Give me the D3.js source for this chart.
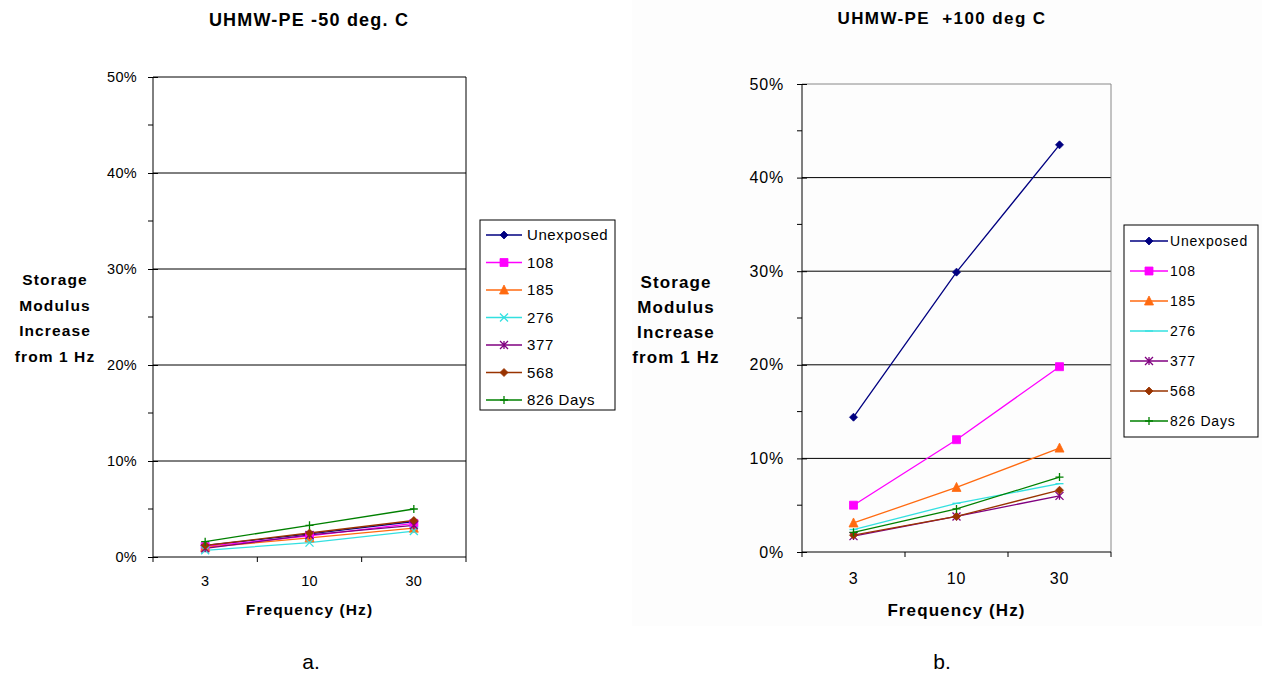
<!DOCTYPE html>
<html>
<head>
<meta charset="utf-8">
<script src="https://cdn.jsdelivr.net/npm/d3@7"></script>
<style>
  html, body { margin: 0; padding: 0; background: #ffffff; }
  svg { display: block; }
  text { font-family: Arial, "Liberation Sans", sans-serif; fill: #000; }
</style>
</head>
<body>
<svg id="fig" width="1262" height="677"></svg>
<script>
// Frequency categories and tick labels
const categories = ["3", "10", "30"];
const yTickValues = [0, 10, 20, 30, 40, 50];
const seriesNames = ["Unexposed", "108", "185", "276", "377", "568", "826 Days"];
const seriesColors = ["#000080", "#ff00ff", "#ff6a10", "#33e0e0", "#800080", "#993300", "#008000"];

// Storage modulus increase from 1 Hz (%), -50 deg C
const coldUnexposed = [1.2, 2.4, 3.7];
const cold108 = [1.1, 2.2, 3.5];
const cold185 = [1.0, 2.0, 3.0];
const cold276 = [0.7, 1.5, 2.7];
const cold377 = [0.9, 2.3, 3.3];
const cold568 = [1.2, 2.5, 3.8];
const cold826 = [1.6, 3.3, 5.0];

// Storage modulus increase from 1 Hz (%), +100 deg C
const hotUnexposed = [14.4, 29.9, 43.5];
const hot108 = [5.0, 12.0, 19.8];
const hot185 = [3.1, 6.9, 11.1];
const hot276 = [2.4, 5.2, 7.3];
const hot377 = [1.7, 3.8, 6.0];
const hot568 = [1.8, 3.8, 6.6];
const hot826 = [2.1, 4.6, 8.0];

const svg = d3.select("#fig");

// Marker shapes
function markerPath(kind, s) {
  const h = s / 2;
  switch (kind) {
    case "diamond": return `M0,${-h}L${h},0L0,${h}L${-h},0Z`;
    case "square": return `M${-h},${-h}H${h}V${h}H${-h}Z`;
    case "triangle": return `M0,${-h - 1}L${h + 0.5},${h}L${-h - 0.5},${h}Z`;
    case "x": return `M${-h},${-h}L${h},${h}M${-h},${h}L${h},${-h}`;
    case "dash": return `M${-h},0H${h}`;
    case "asterisk": return `M${-h},${-h}L${h},${h}M${-h},${h}L${h},${-h}M0,${-h}V${h}`;
    case "plus": return `M${-h},0H${h}M0,${-h}V${h}`;
  }
}
const filledKinds = new Set(["diamond", "square", "triangle"]);

function drawMarker(g, kind, color, x, y, s) {
  const filled = filledKinds.has(kind);
  g.append("path")
    .attr("d", markerPath(kind, s))
    .attr("transform", `translate(${x},${y})`)
    .attr("fill", filled ? color : "none")
    .attr("stroke", color)
    .attr("stroke-width", filled ? 0.8 : 1.3);
}

function drawChart(cfg) {
  const g = svg.append("g");
  if (cfg.bg) {
    g.append("rect").attr("x", cfg.bg[0]).attr("y", cfg.bg[1])
      .attr("width", cfg.bg[2]).attr("height", cfg.bg[3]).attr("fill", "#fdfdfd");
  }
  const x = d3.scaleBand().domain(categories).range([cfg.left, cfg.right]);
  const y = d3.scaleLinear().domain([0, 50]).range([cfg.bottom, cfg.top]);

  // horizontal gridlines
  g.append("g").selectAll("line").data(yTickValues.filter(v => v > 0)).join("line")
    .attr("x1", cfg.left).attr("x2", cfg.right)
    .attr("y1", d => y(d)).attr("y2", d => y(d))
    .attr("stroke", d => d === 50 ? cfg.frameColor : "#000").attr("stroke-width", 1);
  // right frame
  g.append("line").attr("x1", cfg.right).attr("x2", cfg.right)
    .attr("y1", cfg.top).attr("y2", cfg.bottom).attr("stroke", cfg.frameColor);

  // y axis
  const yAxis = d3.axisLeft(y).tickValues(yTickValues).tickSize(5)
    .tickFormat(d => d + "%");
  const ya = g.append("g").attr("transform", `translate(${cfg.left},0)`).call(yAxis);
  ya.select(".domain").attr("stroke", "#000").attr("d", `M0,${cfg.top}V${cfg.bottom}`);
  ya.selectAll(".tick line").attr("stroke", "#000").attr("x1", 5).attr("x2", -5);
  ya.selectAll(".tick text").attr("font-size", cfg.tickFont).attr("x", -cfg.tickGap)
    .attr("font-family", "Arial, 'Liberation Sans', sans-serif").attr("fill", "#222")
    .attr("letter-spacing", cfg.tickSpacing);
  // minor ticks at 5% steps
  g.append("g").selectAll("line").data([5, 15, 25, 35, 45]).join("line")
    .attr("x1", cfg.left - 5).attr("x2", cfg.left)
    .attr("y1", d => y(d)).attr("y2", d => y(d)).attr("stroke", "#000");

  // x axis with ticks between categories
  const bounds = [cfg.left].concat(categories.map(c => x(c) + x.bandwidth()));
  g.append("line").attr("x1", cfg.left).attr("x2", cfg.right)
    .attr("y1", cfg.bottom).attr("y2", cfg.bottom).attr("stroke", "#000");
  g.append("g").selectAll("line").data(bounds).join("line")
    .attr("x1", d => d).attr("x2", d => d)
    .attr("y1", cfg.bottom).attr("y2", cfg.bottom + 5).attr("stroke", "#000");
  g.append("g").selectAll("text").data(categories).join("text")
    .attr("x", d => x(d) + x.bandwidth() / 2).attr("y", cfg.xLabelY)
    .attr("text-anchor", "middle").attr("font-size", cfg.tickFont).attr("fill", "#222")
    .attr("letter-spacing", cfg.tickSpacing)
    .text(d => d);

  // series lines and markers
  cfg.series.forEach((vals, i) => {
    const pts = vals.map((v, j) => [x(categories[j]) + x.bandwidth() / 2, y(v)]);
    g.append("path").attr("d", d3.line()(pts)).attr("fill", "none")
      .attr("stroke", seriesColors[i]).attr("stroke-width", 1.3);
  });
  cfg.series.forEach((vals, i) => {
    vals.forEach((v, j) => {
      drawMarker(g, cfg.markers[i], seriesColors[i], x(categories[j]) + x.bandwidth() / 2, y(v), cfg.markerSize);
    });
  });

  // titles
  g.append("text").attr("x", cfg.titleX).attr("y", cfg.titleY).attr("text-anchor", "middle")
    .attr("font-size", cfg.titleFont).attr("font-weight", "bold").attr("xml:space", "preserve")
    .attr("letter-spacing", cfg.titleSpacing)
    .text(cfg.title);
  g.append("text").attr("x", (cfg.left + cfg.right) / 2).attr("y", cfg.xTitleY)
    .attr("text-anchor", "middle").attr("font-size", cfg.axisFont).attr("font-weight", "bold")
    .attr("letter-spacing", cfg.axisSpacing)
    .text("Frequency (Hz)");
  const yt = g.append("text").attr("text-anchor", "middle").attr("font-size", cfg.axisFont)
    .attr("font-weight", "bold").attr("letter-spacing", cfg.axisSpacing);
  ["Storage", "Modulus", "Increase", "from 1 Hz"].forEach((line, k) => {
    yt.append("tspan").attr("x", cfg.yTitleX).attr("y", cfg.yTitleY + k * cfg.yTitleStep).text(line);
  });

  // legend
  const L = cfg.legend;
  g.append("rect").attr("x", L.x).attr("y", L.y).attr("width", L.w).attr("height", L.h)
    .attr("fill", "#fff").attr("stroke", "#000").attr("stroke-width", 1);
  seriesNames.forEach((name, i) => {
    const ry = L.y + L.first + i * L.step;
    g.append("line").attr("x1", L.x + L.lineX0).attr("x2", L.x + L.lineX1)
      .attr("y1", ry).attr("y2", ry).attr("stroke", seriesColors[i]).attr("stroke-width", 1.3);
    drawMarker(g, cfg.markers[i], seriesColors[i], L.x + (L.lineX0 + L.lineX1) / 2, ry, cfg.markerSize);
    g.append("text").attr("x", L.x + L.textX).attr("y", ry + L.font * 0.36)
      .attr("font-size", L.font).attr("fill", "#111").attr("letter-spacing", L.spacing)
      .text(name);
  });
}

drawChart({
  title: "UHMW-PE -50 deg. C", titleX: 309, titleY: 26, titleFont: 18, titleSpacing: 1.2,
  left: 153, right: 466, top: 77, bottom: 557, frameColor: "#000",
  tickFont: 14.5, tickGap: 16, tickSpacing: 0.3, xLabelY: 586, xTitleY: 615,
  axisFont: 15.5, axisSpacing: 1.1,
  yTitleX: 55, yTitleY: 285, yTitleStep: 25.5,
  series: [coldUnexposed, cold108, cold185, cold276, cold377, cold568, cold826],
  markers: ["diamond", "square", "triangle", "x", "asterisk", "diamond", "plus"],
  markerSize: 8,
  legend: { x: 480, y: 220, w: 135, h: 190, first: 15, step: 27.5, lineX0: 6, lineX1: 42, textX: 47, font: 15, spacing: 0.6 }
});

drawChart({
  title: "UHMW-PE  +100 deg C", titleX: 942, titleY: 24, titleFont: 17, titleSpacing: 1.4,
  left: 802, right: 1111, top: 84, bottom: 552, frameColor: "#888",
  tickFont: 16, tickGap: 18, tickSpacing: 0.8, xLabelY: 584, xTitleY: 616,
  axisFont: 17, axisSpacing: 1.1,
  yTitleX: 676, yTitleY: 288, yTitleStep: 25,
  series: [hotUnexposed, hot108, hot185, hot276, hot377, hot568, hot826],
  markers: ["diamond", "square", "triangle", "dash", "asterisk", "diamond", "plus"],
  markerSize: 8,
  legend: { x: 1124, y: 225, w: 134, h: 212, first: 16, step: 30, lineX0: 6, lineX1: 44, textX: 46, font: 14, spacing: 0.8 },
  bg: [632, 0, 630, 626]
});

// panel captions
svg.append("text").attr("x", 311).attr("y", 669).attr("text-anchor", "middle")
  .attr("font-family", "'Liberation Serif', 'Times New Roman', serif").attr("font-size", 21)
  .text("a.");
svg.append("text").attr("x", 942).attr("y", 669).attr("text-anchor", "middle")
  .attr("font-family", "'Liberation Serif', 'Times New Roman', serif").attr("font-size", 21)
  .text("b.");
</script>
</body>
</html>
